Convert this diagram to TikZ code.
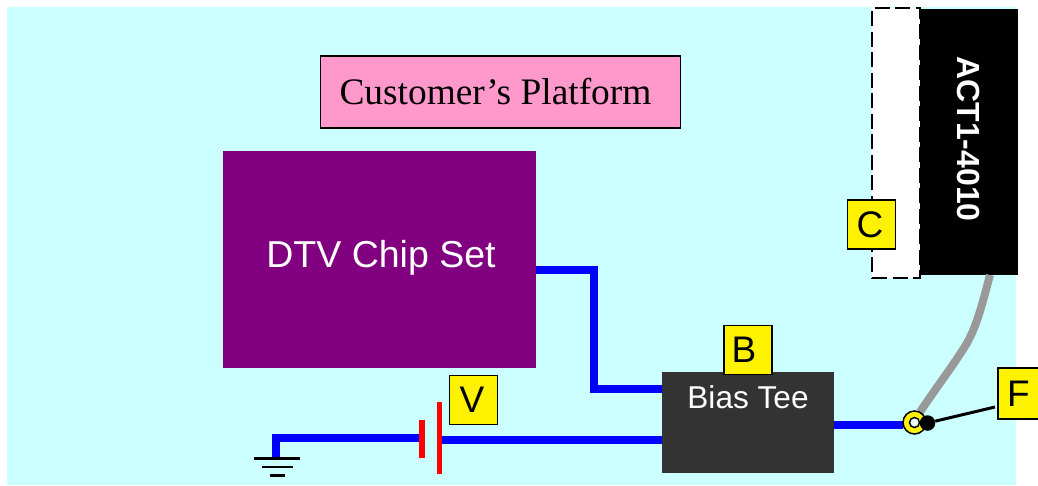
\documentclass[tikz,border=0pt]{standalone}
\usepackage{fontspec}
\setmainfont{Liberation Sans}
\newfontfamily\serifface{Liberation Serif}
\definecolor{bgcyan}{RGB}{204,255,255}
\definecolor{pinkbox}{RGB}{255,153,204}
\definecolor{chip}{RGB}{128,0,128}
\definecolor{teegray}{RGB}{51,51,51}
\definecolor{cablegray}{RGB}{153,153,153}
\tikzset{
  x=1pt,y=-1pt,
  tag/.style={draw=black,line width=1.6pt,fill=yellow,minimum width=48pt,minimum height=49pt,inner sep=0pt,text=black,font=\fontsize{37}{37}\selectfont},
  wire/.style={draw=blue,line width=8pt},
  plate/.style={draw=red,line width=5.5pt},
  gnd/.style={draw=black,line width=2.6pt},
  block/.style={inner sep=0pt,anchor=north west,align=center},
}
\begin{document}
\begin{tikzpicture}
\useasboundingbox (0,0) rectangle (1038,485);
\fill[bgcyan] (7,7) rectangle (1016,485);
% module + dashed slot
\node[block,draw=black,line width=2pt,dash pattern=on 15pt off 5.5pt,fill=white,minimum width=48pt,minimum height=270pt] (slot) at (871,7) {};
\node[block,fill=black,minimum width=98pt,minimum height=266pt] (act) at (920,9) {};
\node[rotate=-90,text=white,font=\bfseries\fontsize{32}{32}\selectfont] (actlabel) at (968.5,139) {ACT1-4010};
% title
\node[block,draw=black,line width=1.6pt,fill=pinkbox,minimum width=360pt,minimum height=72pt] (title) at (319.5,55) {};
\node[font=\serifface\fontsize{37.4}{37.4}\selectfont] (titletext) at (495.5,91.5) {Customer’s Platform};
% chip
\node[block,fill=chip,minimum width=313pt,minimum height=217pt] (chipset) at (223,151) {};
\node[text=white,font=\fontsize{37.5}{37.5}\selectfont] (chiptext) at (381,258) {DTV Chip Set};
% tee
\coordinate (chipout) at (536,270);
\coordinate (chipbend) at (594,270);
\coordinate (teein) at (662,389);
\coordinate (teeinb) at (594,389);
\draw[wire,line cap=butt] (chipout) -- (chipbend) -- (teeinb) -- (teein);
\node[block,fill=teegray,minimum width=172pt,minimum height=101pt] (tee) at (662,372) {};
\node[text=white,font=\fontsize{31.6}{31.6}\selectfont] (teetext) at (748,397) {Bias Tee};
% battery
\coordinate (gt) at (276,438);
\coordinate (gb) at (276,458);
\coordinate (pl) at (421,438);
\coordinate (pr) at (440,439.5);
\coordinate (tl) at (662,439.5);
\draw[wire] (gb) -- (gt) -- (pl);
\draw[wire] (pr) -- (tl);
\draw[plate] (421.8,420) -- (421.8,458);
\draw[plate] (439.4,402) -- (439.4,474);
% ground
\draw[gnd] (254,458.5) -- (300,458.5);
\draw[gnd] (262,467) -- (293,467);
\draw[gnd] (270,475.5) -- (285,475.5);
% cable
\coordinate (cabtop) at (990,275);
\draw[draw=cablegray,line width=8pt] (cabtop) .. controls (982,305) and (977,325) .. (967,343) .. controls (955,363) and (938,385) .. (920,412);
\coordinate (wireend) at (903,425);
\draw[wire] (834,425) -- (wireend);
\node[circle,draw=black,line width=1.5pt,fill=yellow,minimum size=23pt,inner sep=0pt] (conn) at (914.5,422.5) {};
\node[circle,draw=black,line width=1.5pt,fill=bgcyan!30!white,minimum size=10pt,inner sep=0pt] (connhole) at (914.5,422.5) {};
\node[circle,fill=black,minimum size=15.5pt,inner sep=0pt] (pin) at (927.5,423) {};
\coordinate (fend) at (995,407);
\draw[black,line width=3pt] (pin) -- (fend);
% tags
\node[tag] (tagc) at (871.5,224.5) {\kern-3pt C};
\node[tag] (tagb) at (748,350) {\kern-8pt B};
\node[tag] (tagv) at (473.5,400) {\kern-3pt V};
\node[tag,minimum height=51pt] (tagf) at (1022,393.5) {\kern-7pt F};
\end{tikzpicture}
\end{document}
